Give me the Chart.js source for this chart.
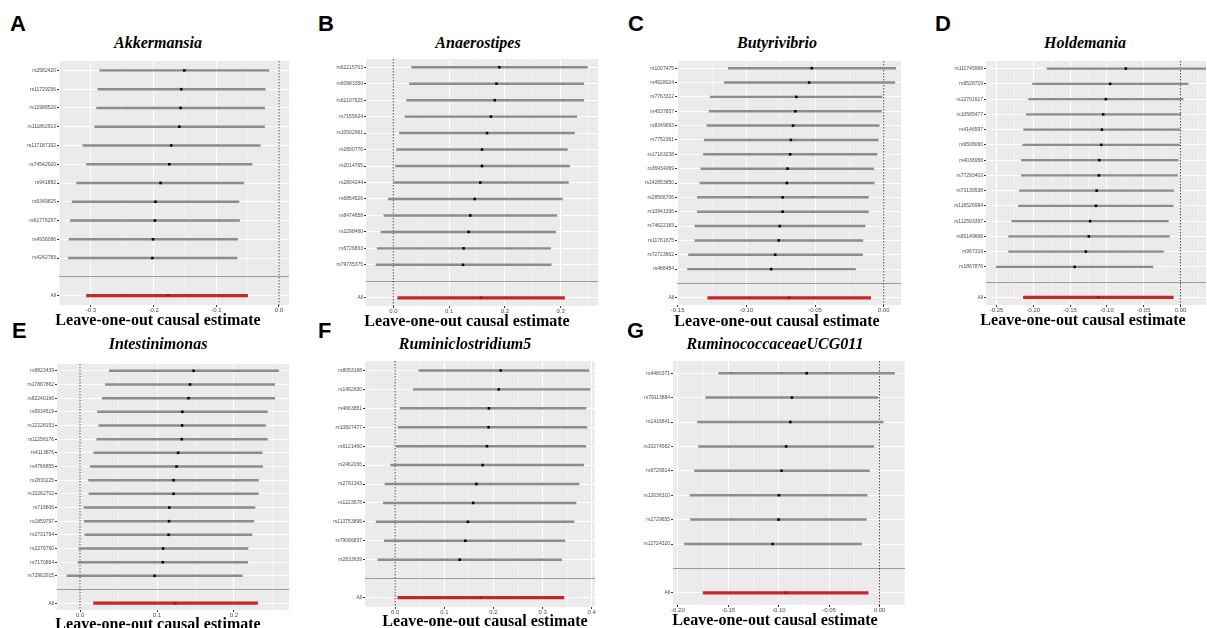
<!DOCTYPE html>
<html>
<head>
<meta charset="utf-8">
<script src="https://cdn.jsdelivr.net/npm/chart.js@4.4.1/dist/chart.umd.min.js"></script>
<style>
  html, body { margin: 0; padding: 0; background: #fff; width: 1207px; height: 628px; overflow: hidden; }
  .box { position: absolute; }
  .letter { position: absolute; font: bold 22px "Liberation Sans", Arial, sans-serif; line-height: 22px; color: #000; }
  .title { position: absolute; font: italic bold 16px "Liberation Serif", serif; transform: translate(-50%, -50%); white-space: nowrap; }
  .xtitle { position: absolute; font: bold 16px "Liberation Serif", serif; transform: translate(-50%, -50%); white-space: nowrap; }
</style>
</head>
<body>
<script>
// leave-one-out estimates
const akkSnps = ['rs2582420', 'rs11729256', 'rs12988520', 'rs111862913', 'rs117187192', 'rs74542920', 'rs941882', 'rs6349825', 'rs61776297', 'rs4936086', 'rs4242783'];
const akkEst = [-0.151, -0.156, -0.157, -0.159, -0.172, -0.175, -0.189, -0.197, -0.198, -0.201, -0.202];
const akkLo = [-0.286, -0.289, -0.291, -0.294, -0.313, -0.307, -0.323, -0.330, -0.333, -0.335, -0.336];
const akkHi = [-0.016, -0.022, -0.023, -0.023, -0.030, -0.043, -0.056, -0.064, -0.063, -0.066, -0.067];
const akkAll = [-0.177, -0.307, -0.050];

const anaSnps = ['rs62215703', 'rs60983350', 'rs62107625', 'rs7155624', 'rs10502961', 'rs2800776', 'rs2014765', 'rs2804244', 'rs6854526', 'rs8474658', 'rs2298460', 'rs6726833', 'rs79735375'];
const anaEst = [0.190, 0.185, 0.182, 0.175, 0.168, 0.159, 0.159, 0.156, 0.146, 0.138, 0.135, 0.126, 0.125];
const anaLo = [0.033, 0.029, 0.024, 0.021, 0.011, 0.006, 0.004, 0.001, -0.009, -0.017, -0.022, -0.029, -0.031];
const anaHi = [0.348, 0.341, 0.341, 0.329, 0.325, 0.312, 0.316, 0.314, 0.303, 0.293, 0.291, 0.282, 0.283];
const anaAll = [0.157, 0.008, 0.307];

const butSnps = ['rs1007475', 'rs4928024', 'rs7763312', 'rs4537857', 'rs8349693', 'rs7752361', 'rs17163238', 'rs36934069', 'rs142853850', 'rs28566706', 'rs10941336', 'rs74622183', 'rs11761675', 'rs72723662', 'rs486484'];
const butEst = [-0.0524, -0.0543, -0.0636, -0.0643, -0.0660, -0.0676, -0.0681, -0.0700, -0.0705, -0.0736, -0.0736, -0.0757, -0.0764, -0.0790, -0.0819];
const butLo = [-0.1131, -0.1160, -0.1262, -0.1271, -0.1288, -0.1307, -0.1312, -0.1331, -0.1338, -0.1357, -0.1357, -0.1374, -0.1374, -0.1421, -0.1429];
const butHi = [0.0088, 0.0081, -0.0012, -0.0017, -0.0033, -0.0040, -0.0048, -0.0074, -0.0069, -0.0112, -0.0112, -0.0136, -0.0152, -0.0155, -0.0205];
const butAll = [-0.069, -0.1281, -0.0095];

const holSnps = ['rs111745968', 'rs9528719', 'rs12701617', 'rs10585477', 'rs4146597', 'rs9508060', 'rs4036958', 'rs77293403', 'rs73139538', 'rs116526994', 'rs112593397', 'rs80149668', 'rs967319', 'rs1867876'];
const holEst = [-0.0743, -0.0956, -0.1014, -0.1050, -0.1068, -0.1077, -0.1103, -0.1108, -0.1139, -0.1148, -0.1228, -0.1246, -0.1286, -0.1437];
const holLo = [-0.1815, -0.2010, -0.2064, -0.2095, -0.2131, -0.2144, -0.2162, -0.2162, -0.2189, -0.2202, -0.2291, -0.2335, -0.2335, -0.2504];
const holHi = [0.035, 0.0102, 0.0036, 0.0004, 0.0000, -0.0009, -0.0031, -0.0040, -0.0089, -0.0098, -0.0165, -0.0151, -0.0231, -0.0374];
const holAll = [-0.1117, -0.2135, -0.0098];

const intSnps = ['rs9823439', 'rs17867862', 'rs62240166', 'rs6934519', 'rs12228153', 'rs11258176', 'rs4113876', 'rs4766855', 'rs2830225', 'rs10262702', 'rs716806', 'rs1859797', 'rs2731794', 'rs2276760', 'rs7170864', 'rs72962915'];
const intEst = [0.1475, 0.1430, 0.1410, 0.1330, 0.1326, 0.1322, 0.1275, 0.1254, 0.1215, 0.1215, 0.1160, 0.1156, 0.1151, 0.1079, 0.1075, 0.0968];
const intLo = [0.0380, 0.0330, 0.0290, 0.0226, 0.0243, 0.0217, 0.0179, 0.0132, 0.0111, 0.0115, 0.0051, 0.0055, 0.0064, -0.0017, -0.0026, -0.0171];
const intHi = [0.2580, 0.2530, 0.2530, 0.2435, 0.2410, 0.2435, 0.2367, 0.2375, 0.2320, 0.2316, 0.2273, 0.2260, 0.2234, 0.2183, 0.2179, 0.2107];
const intAll = [0.1237, 0.0175, 0.2307];

const rumSnps = ['rs8053168', 'rs1492630', 'rs4663851', 'rs10827477', 'rs6121460', 'rs2462036', 'rs2791343', 'rs1223678', 'rs113753896', 'rs79066837', 'rs2833639'];
const rumEst = [0.2147, 0.2107, 0.1907, 0.1900, 0.1867, 0.1780, 0.1653, 0.1587, 0.1480, 0.1427, 0.1313];
const rumLo = [0.0480, 0.0367, 0.0100, 0.0060, 0.0020, -0.0093, -0.0207, -0.0240, -0.0387, -0.0220, -0.0353];
const rumHi = [0.3940, 0.3967, 0.3880, 0.3900, 0.3880, 0.3833, 0.3740, 0.3680, 0.3640, 0.3453, 0.3387];
const rumAll = [0.1740, 0.0053, 0.3433];

const ucgSnps = ['rs4480371', 'rs79113884', 'rs1416841', 'rs10274562', 'rs9729514', 'rs12636310', 'rs2729655', 'rs12724320'];
const ucgEst = [-0.0723, -0.0869, -0.0885, -0.0927, -0.0972, -0.0998, -0.1002, -0.1060];
const ucgLo = [-0.1595, -0.1724, -0.1806, -0.1796, -0.1835, -0.1880, -0.1874, -0.1935];
const ucgHi = [0.0149, -0.0016, 0.0036, -0.0058, -0.0100, -0.0123, -0.0130, -0.0178];
const ucgAll = [-0.0930, -0.1750, -0.0113];

const AXIS_W = 58;   // room for snp labels
const AXIS_H = 11;   // room for x tick labels

// gray panel background + dotted zero line
const panelPlugin = {
  id: 'panelBg',
  beforeDraw(chart) {
    const { ctx, chartArea: a } = chart;
    ctx.save();
    ctx.fillStyle = '#EBEBEB';
    ctx.fillRect(a.left, a.top, a.right - a.left, a.bottom - a.top);
    ctx.restore();
  },
  beforeDatasetsDraw(chart) {
    const { ctx, chartArea: a, scales } = chart;
    const px = scales.x.getPixelForValue(0);
    ctx.save();
    ctx.strokeStyle = '#222';
    ctx.lineWidth = 0.8;
    ctx.setLineDash([1.5, 1.5]);
    ctx.beginPath();
    ctx.moveTo(px, a.top);
    ctx.lineTo(px, a.bottom);
    ctx.stroke();
    ctx.restore();
  }
};

function addText(cls, text, x, y) {
  const d = document.createElement('div');
  d.className = cls;
  d.textContent = text;
  d.style.left = x + 'px';
  d.style.top = y + 'px';
  document.body.appendChild(d);
}

function panel(p) {
  const n = p.snps.length;
  const labels = [...p.snps, '', 'All'];
  const ciRows = p.lo.map((v, i) => [v, p.hi[i]]).concat([null, null]);
  const ciAll = p.snps.map(() => null).concat([null, [p.all[1], p.all[2]]]);
  const pts = p.est.concat([null, p.all[0]]);
  const ptColors = labels.map((l, i) => i === n + 1 ? '#9E1515' : '#000');
  const isMajor = v => Math.abs(v / p.major - Math.round(v / p.major)) < 1e-6;

  const [pl, pt, pr, pb] = p.plot;
  const left = pl - AXIS_W;
  const w = pr - left, h = pb - pt + AXIS_H;
  const box = document.createElement('div');
  box.className = 'box';
  box.style.left = left + 'px';
  box.style.top = pt + 'px';
  box.style.width = w + 'px';
  box.style.height = h + 'px';
  const cv = document.createElement('canvas');
  cv.width = w;
  cv.height = h;
  box.appendChild(cv);
  document.body.appendChild(box);

  new Chart(cv, {
    type: 'bar',
    data: {
      labels: labels,
      datasets: [
        {
          type: 'line', indexAxis: 'y', data: pts, showLine: false,
          pointStyle: 'rect', pointRadius: 1.8, pointBorderWidth: 0,
          pointBackgroundColor: ptColors
        },
        { data: ciAll, backgroundColor: '#C8262B', barThickness: 2.6, grouped: false },
        { data: ciRows, backgroundColor: '#8C8C8C', barThickness: 1.8, grouped: false }
      ]
    },
    options: {
      responsive: false,
      animation: false,
      indexAxis: 'y',
      layout: { padding: 0 },
      plugins: { legend: { display: false }, tooltip: { enabled: false } },
      scales: {
        x: {
          type: 'linear', min: p.min, max: p.max,
          afterFit: s => { s.height = AXIS_H; },
          border: { display: false },
          grid: {
            color: c => isMajor(c.tick.value) ? '#FFFFFF' : 'rgba(255,255,255,0.6)',
            lineWidth: c => isMajor(c.tick.value) ? 1 : 0.6,
            tickColor: c => isMajor(c.tick.value) ? '#333' : 'rgba(0,0,0,0)',
            tickLength: 2
          },
          ticks: {
            stepSize: p.major / 2, includeBounds: false, autoSkip: false,
            maxRotation: 0, padding: 0, color: '#4D4D4D',
            font: { size: 6, family: 'Liberation Sans' },
            callback: v => isMajor(v) ? v.toFixed(p.dec) : ''
          }
        },
        y: {
          type: 'category', offset: true,
          afterFit: s => { s.width = AXIS_W; },
          border: { display: false },
          grid: {
            offset: false,
            color: c => c.index === n ? '#9A9A9A' : '#FFFFFF',
            lineWidth: 1,
            tickColor: c => c.index === n ? 'rgba(0,0,0,0)' : '#333',
            tickLength: 2
          },
          ticks: {
            autoSkip: false, padding: 1, color: '#4D4D4D',
            font: { size: 5, family: 'Liberation Sans' }
          }
        }
      }
    },
    plugins: [panelPlugin]
  });

  addText('letter', p.letter, p.letterAt[0], p.letterAt[1]);
  addText('title', p.title, p.titleAt[0], p.titleAt[1]);
  addText('xtitle', 'Leave-one-out causal estimate', p.xtitleAt[0], p.xtitleAt[1]);
}

panel({ letter: 'A', title: 'Akkermansia', snps: akkSnps, est: akkEst, lo: akkLo, hi: akkHi, all: akkAll,
  plot: [59, 57, 293, 305], min: -0.351, max: 0.016, major: 0.1, dec: 1,
  letterAt: [10, 13], titleAt: [158, 43], xtitleAt: [158, 320] });
panel({ letter: 'B', title: 'Anaerostipes', snps: anaSnps, est: anaEst, lo: anaLo, hi: anaHi, all: anaAll,
  plot: [366, 55, 602, 306], min: -0.049, max: 0.367, major: 0.1, dec: 1,
  letterAt: [318, 13], titleAt: [478, 43], xtitleAt: [467, 321] });
panel({ letter: 'C', title: 'Butyrivibrio', snps: butSnps, est: butEst, lo: butLo, hi: butHi, all: butAll,
  plot: [677, 57, 905, 305], min: -0.1505, max: 0.0126, major: 0.05, dec: 2,
  letterAt: [628, 13], titleAt: [777, 43], xtitleAt: [777, 321] });
panel({ letter: 'D', title: 'Holdemania', snps: holSnps, est: holEst, lo: holLo, hi: holHi, all: holAll,
  plot: [986, 57, 1210, 305], min: -0.2643, max: 0.0347, major: 0.05, dec: 2,
  letterAt: [935, 13], titleAt: [1085, 43], xtitleAt: [1083, 320] });
panel({ letter: 'E', title: 'Intestinimonas', snps: intSnps, est: intEst, lo: intLo, hi: intHi, all: intAll,
  plot: [57, 360, 293, 610], min: -0.030, max: 0.2716, major: 0.1, dec: 1,
  letterAt: [12, 320], titleAt: [158, 344], xtitleAt: [158, 624] });
panel({ letter: 'F', title: 'Ruminiclostridium5', snps: rumSnps, est: rumEst, lo: rumLo, hi: rumHi, all: rumAll,
  plot: [365, 357, 599, 607], min: -0.0614, max: 0.4066, major: 0.1, dec: 1,
  letterAt: [318, 320], titleAt: [465, 344], xtitleAt: [485, 621] });
panel({ letter: 'G', title: 'RuminococcaceaeUCG011', snps: ucgSnps, est: ucgEst, lo: ucgLo, hi: ucgHi, all: ucgAll,
  plot: [673, 357, 909, 605], min: -0.2049, max: 0.0253, major: 0.05, dec: 2,
  letterAt: [627, 320], titleAt: [775, 344], xtitleAt: [775, 620] });
</script>
</body>
</html>
